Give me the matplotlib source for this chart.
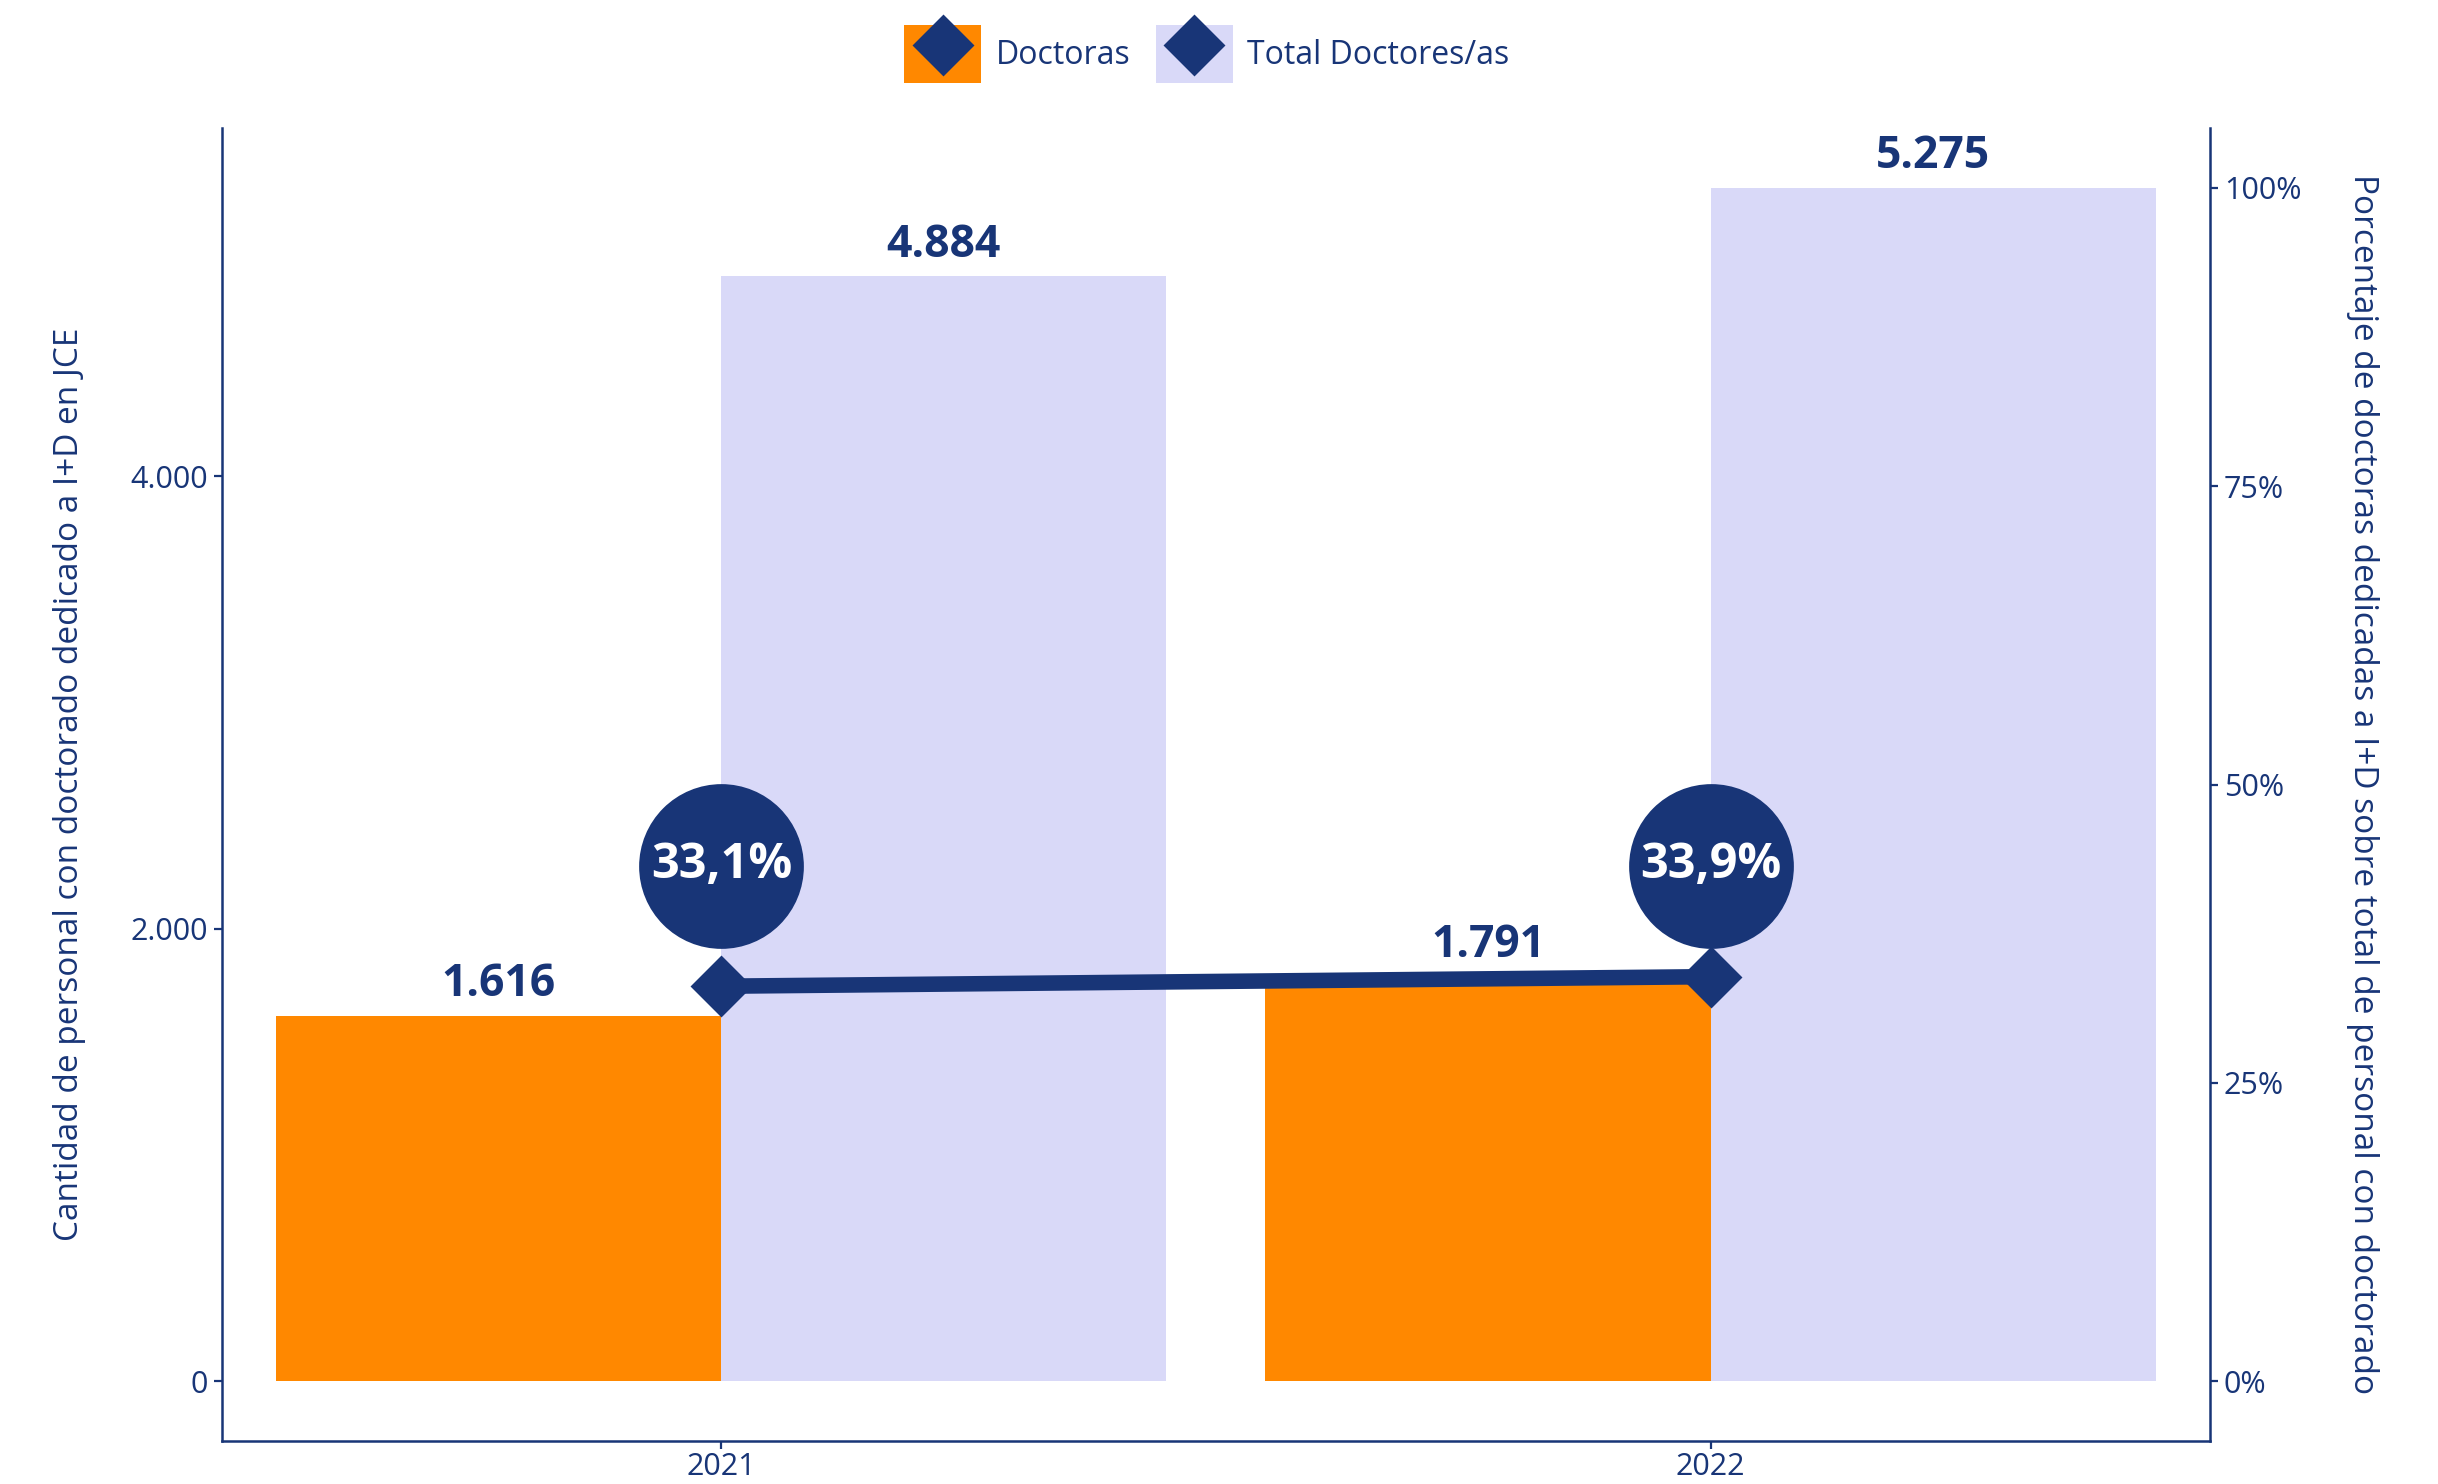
import matplotlib.pyplot as plt
from matplotlib.patches import Patch
from matplotlib.lines import Line2D
from matplotlib.legend_handler import HandlerTuple

# data
years = ['2021', '2022']
doctoras = [1616, 1791]
total = [4884, 5275]
pct = [33.1, 33.9]

orange = '#FF8800'
lavender = '#D9D9F8'
navy = '#183577'

plt.rcParams['font.family'] = ['Open Sans', 'DejaVu Sans']

fig = plt.figure(figsize=(12.19, 7.42), dpi=200)
ax = fig.add_axes([0.091, 0.029, 0.8155, 0.8847])

x = [1, 2]
w = 0.45
x_doc = [i - w / 2 for i in x]
x_tot = [i + w / 2 for i in x]

ax.bar(x_doc, doctoras, width=w, color=orange, zorder=2)
ax.bar(x_tot, total, width=w, color=lavender, zorder=2)


def fmt(v):
    return f'{v:,}'.replace(',', '.')


for xi, v in zip(x_doc, doctoras):
    ax.annotate(fmt(v), (xi, v), xytext=(0, 3), textcoords='offset points',
                ha='center', va='bottom', fontsize=16, fontweight='bold', color=navy)
for xi, v in zip(x_tot, total):
    ax.annotate(fmt(v), (xi, v), xytext=(0, 3), textcoords='offset points',
                ha='center', va='bottom', fontsize=16, fontweight='bold', color=navy)

ymax = max(total)
ylo, yhi = -0.05 * ymax, 1.05 * ymax
ax.set_ylim(ylo, yhi)
ax.set_xlim(0.495, 2.505)
ax.set_xticks(x)
ax.set_xticklabels(years)
ax.set_yticks([0, 2000, 4000])
ax.set_yticklabels(['0', '2.000', '4.000'])
ax.set_ylabel('Cantidad de personal con doctorado dedicado a I+D en JCE',
              fontsize=12, color=navy, labelpad=16)

# right axis in percent, 100% = largest total
ax2 = ax.twinx()
ax2.set_ylim(ylo / ymax * 100, yhi / ymax * 100)
ax2.set_yticks([0, 25, 50, 75, 100])
ax2.set_yticklabels(['0%', '25%', '50%', '75%', '100%'])
ax2.set_ylabel('Porcentaje de doctoras dedicadas a I+D sobre total de personal con doctorado',
               fontsize=12, color=navy, rotation=270, labelpad=28)

ax2.plot(x, pct, color=navy, linewidth=5.6, marker='D', markersize=15, zorder=3)
label_y = max(pct) + 9.3
for xi, p in zip(x, pct):
    ax2.scatter([xi], [label_y], s=3400, color=navy, zorder=4)
    ax2.text(xi, label_y, f'{p:.1f}%'.replace('.', ','), ha='center', va='center',
             fontsize=17.5, fontweight='bold', color='white', zorder=5)

for a in [ax, ax2]:
    a.spines['top'].set_visible(False)
    for s in ['left', 'right', 'bottom']:
        a.spines[s].set_color(navy)
        a.spines[s].set_linewidth(0.9)
    a.tick_params(colors=navy, labelsize=11, length=3, width=0.8, pad=2)
    a.set_facecolor('none')
ax.spines['right'].set_visible(False)
ax2.spines['left'].set_visible(False)
ax2.spines['bottom'].set_visible(False)
ax.tick_params(axis='x', pad=1)

handles = [
    (Patch(facecolor=orange), Line2D([], [], marker='D', color=navy, markersize=15, linestyle='')),
    (Patch(facecolor=lavender), Line2D([], [], marker='D', color=navy, markersize=15, linestyle='')),
]
fig.legend(handles, ['Doctoras', 'Total Doctores/as'], loc='center',
           bbox_to_anchor=(0.495, 0.9636), ncol=2, frameon=False,
           fontsize=11.5, labelcolor=navy, handlelength=2.4, handleheight=2.4,
           handletextpad=0.45, columnspacing=0.8,
           handler_map={tuple: HandlerTuple(ndivide=1)})

fig.savefig('out.png', dpi=200)
